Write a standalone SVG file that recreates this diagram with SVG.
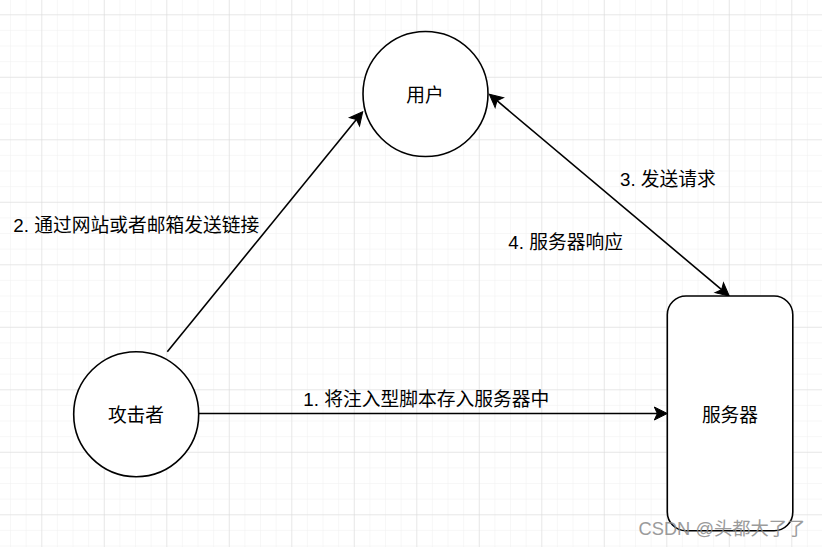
<svg xmlns="http://www.w3.org/2000/svg" width="822" height="547" viewBox="0 0 822 547">
  <style>
    .shape { fill: #ffffff; stroke: #000000; stroke-width: 1.6; }
    .edge { fill: none; stroke: #000000; stroke-width: 1.6; }
    .t { font-family: "Liberation Sans", "Noto Sans CJK SC", sans-serif; font-size: 18.75px; fill: #000000; }
    .c { text-anchor: middle; }
    .wm { font-family: "Liberation Sans", "Noto Sans CJK SC", sans-serif; font-size: 18.3px; fill: #8a8a8a; opacity: 0.85; }
  </style>
  <defs>
    <pattern id="minor" patternUnits="userSpaceOnUse" x="10.05" y="14.3" width="15.625" height="15.625">
      <path d="M0,0 H15.625 M0,0 V15.625" fill="none" stroke="#efefef" stroke-width="1"/>
    </pattern>
    <pattern id="major" patternUnits="userSpaceOnUse" x="41.3" y="14.3" width="62.5" height="62.5">
      <path d="M0,0 H62.5 M0,0 V62.5" fill="none" stroke="#d9d9d9" stroke-width="1"/>
    </pattern>
    <marker id="arrow" markerUnits="userSpaceOnUse" markerWidth="20" markerHeight="20" refX="0" refY="0" orient="auto-start-reverse" overflow="visible">
      <path d="M10,0 L-3,-6.5 L0,0 L-3,6.5 Z" fill="#000000" stroke="#000000" stroke-width="1"/>
    </marker>
  </defs>

  <rect x="0" y="0" width="822" height="547" fill="#ffffff"/>
  <rect x="0" y="0" width="822" height="547" fill="url(#minor)"/>
  <rect x="0" y="0" width="822" height="547" fill="url(#major)"/>

  <g id="connectors">
    <line class="edge" x1="199" y1="413.5" x2="657.3" y2="413.5" marker-end="url(#arrow)"/>
    <line class="edge" x1="167.3" y1="351.7" x2="356.4" y2="119.5" marker-end="url(#arrow)"/>
    <line class="edge" x1="497.0" y1="100.7" x2="721.6" y2="289.6" marker-start="url(#arrow)" marker-end="url(#arrow)"/>
    <text class="t" x="303.3" y="406">1. 将注入型脚本存入服务器中</text>
    <text class="t" x="13.3" y="232">2. 通过网站或者邮箱发送链接</text>
    <text class="t" x="620" y="186">3. 发送请求</text>
    <text class="t" x="508.3" y="248.7">4. 服务器响应</text>
  </g>

  <g id="user">
    <circle class="shape" cx="425.5" cy="94" r="62.5"/>
    <text class="t c" x="425" y="102">用户</text>
  </g>

  <g id="attacker">
    <circle class="shape" cx="136.2" cy="414.2" r="62.5"/>
    <text class="t c" x="136" y="422">攻击者</text>
  </g>

  <g id="server">
    <rect class="shape" x="667.3" y="296" width="125.5" height="234.7" rx="18.75" ry="18.75"/>
    <text class="t c" x="730" y="422">服务器</text>
  </g>

  <text class="wm" x="638.5" y="534.5">CSDN @头都大了了</text>
</svg>
